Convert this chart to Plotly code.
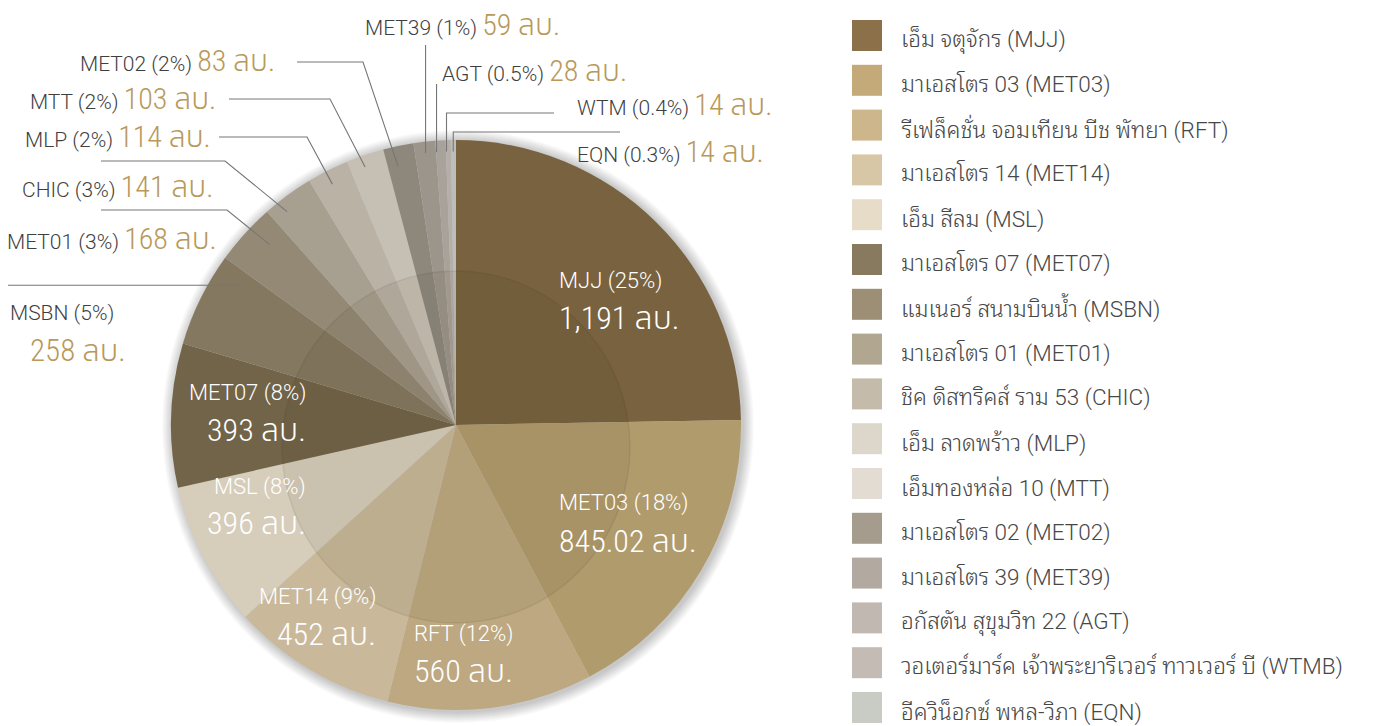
import math
import plotly.graph_objects as go

# -------------------------------------------------------------------------------------
# Dados
codigos = ['MJJ', 'MET03', 'RFT', 'MET14', 'MSL', 'MET07', 'MSBN', 'MET01',
           'CHIC', 'MLP', 'MTT', 'MET02', 'MET39', 'AGT', 'WTM', 'EQN']
valores = [1191, 845.02, 560, 452, 396, 393, 258, 168,
           141, 114, 103, 83, 59, 28, 14, 14]
percentuais = ['25%', '18%', '12%', '9%', '8%', '8%', '5%', '3%',
               '3%', '2%', '2%', '2%', '1%', '0.5%', '0.4%', '0.3%']
nomes_legenda = [
    'เอ็ม จตุจักร (MJJ)',
    'มาเอสโตร 03 (MET03)',
    'รีเฟล็คชั่น จอมเทียน บีช พัทยา (RFT)',
    'มาเอสโตร 14 (MET14)',
    'เอ็ม สีลม (MSL)',
    'มาเอสโตร 07 (MET07)',
    'แมเนอร์ สนามบินน้ำ (MSBN)',
    'มาเอสโตร 01 (MET01)',
    'ชิค ดิสทริคส์ ราม 53 (CHIC)',
    'เอ็ม ลาดพร้าว (MLP)',
    'เอ็มทองหล่อ 10 (MTT)',
    'มาเอสโตร 02 (MET02)',
    'มาเอสโตร 39 (MET39)',
    'อกัสตัน สุขุมวิท 22 (AGT)',
    'วอเตอร์มาร์ค เจ้าพระยาริเวอร์ ทาวเวอร์ บี (WTMB)',
    'อีควิน็อกซ์ พหล-วิภา (EQN)',
]
unidade = 'ลบ.'

cores_pizza = ['#78623F', '#B09B6C', '#BDA881', '#C9B99A', '#D6CDBB', '#716448',
               '#847860', '#938975', '#A79F8F', '#B9B2A5', '#C6C0B4', '#8D877C',
               '#9C958B', '#A9A29A', '#B4AFA8', '#BBBEB9']
cores_legenda = ['#8B704A', '#C4AA78', '#CDB68C', '#D8C7A6', '#E6DCC8', '#877A5E',
                 '#9C8F75', '#B1A690', '#C5BBAA', '#DDD6CB', '#E2DCD2', '#A69C8D',
                 '#B2AAA0', '#C0B8B1', '#C4BCB4', '#C9CCC5']

# -------------------------------------------------------------------------------------
# Geometria (pixels da tela; a página tem margem de 8px)
OFF = 8
W, H = 1388 - OFF, 726 - OFF
CX, CY, R = 456, 425, 285

FONTE = 'Roboto, Noto Sans Thai Looped, Loma, sans-serif'
FONTE_NUM = 'Roboto Condensed, Noto Sans Thai, sans-serif'
ESTILO_NUM = f'font-family:{FONTE_NUM};font-weight:300;font-stretch:62.5%'
DOURADO = '#B8995A'
CINZA = '#3F3F3F'
LINHA = '#767676'


def px(x):
    return (x - OFF) / W


def py(y):
    return 1 - (y - OFF) / H


def fmt(v):
    return f'{v:,.0f}' if float(v).is_integer() else f'{v:,.2f}'


total = sum(valores)
inicio = []
acum = 0
for v in valores:
    inicio.append(acum / total)
    acum += v


def ponto(i, t, rf):
    # ponto dentro da fatia i (t = fração angular, rf = fração do raio)
    ang = (inicio[i] + t * valores[i] / total) * 2 * math.pi
    return CX + rf * R * math.sin(ang), CY - rf * R * math.cos(ang)


# -------------------------------------------------------------------------------------
# Gráfico de pizza
fig = go.Figure(go.Pie(
    labels=codigos,
    values=valores,
    sort=False,
    direction='clockwise',
    rotation=0,
    marker=dict(colors=cores_pizza, line=dict(width=0)),
    textinfo='none',
    hoverinfo='label+value',
    showlegend=False,
    domain=dict(x=[px(CX - R), px(CX + R)], y=[py(CY + R), py(CY - R)]),
))

shapes = []
annotations = []

# sombra
for k in range(1, 12):
    shapes.append(dict(type='circle', xref='paper', yref='paper', layer='below',
                       x0=px(CX - R - k + 2), x1=px(CX + R + k + 2),
                       y0=py(CY + R + k + 2), y1=py(CY - R - k + 1),
                       fillcolor='rgba(0,0,0,0.02)', line=dict(width=0)))

# círculo interno (efeito de sombreamento)
shapes.append(dict(type='circle', xref='paper', yref='paper', layer='above',
                   x0=px(CX - 174), x1=px(CX + 174), y0=py(CY + 22 + 176), y1=py(CY + 22 - 176),
                   fillcolor='rgba(60,45,20,0.07)', line=dict(color='rgba(60,45,20,0.09)', width=1.5)))

# -------------------------------------------------------------------------------------
# Rótulos internos
internos = {
    'MJJ': (557, 'left', 281, 318),
    'MET03': (557, 'left', 503, 541),
    'RFT': (412, 'left', 634, 671),
    'MET14': (378, 'right', 597, 634),
    'MSL': (308, 'right', 487, 523),
    'MET07': (308, 'right', 393, 430),
}
for cod, (x, anc, y1, y2) in internos.items():
    i = codigos.index(cod)
    annotations.append(dict(x=px(x), y=py(y1), xref='paper', yref='paper', xanchor=anc,
                            yanchor='middle', showarrow=False,
                            text=f'{cod} ({percentuais[i]})',
                            font=dict(family=FONTE, size=22, weight=300, color='white')))
    annotations.append(dict(x=px(x), y=py(y2), xref='paper', yref='paper', xanchor=anc,
                            yanchor='middle', showarrow=False,
                            text=f'<span style="{ESTILO_NUM}">{fmt(valores[i])} {unidade}</span>',
                            font=dict(family=FONTE_NUM, size=32, color='white')))

# -------------------------------------------------------------------------------------
# Rótulos externos com linhas de chamada
externos = {
    # cod: (x, ancora, y, pontos da linha, t, rf)
    'MET39': (363, 'left', 25, [('v', 45)], 0.5, 0.96),
    'AGT': (440, 'left', 70, [('v', 84)], 0.05, 0.96),
    'WTM': (575, 'left', 105, [(554, 113), ('v', 113)], 0.1, 0.96),
    'EQN': (575, 'left', 152, [(620, 132), ('v', 132)], 0.45, 0.96),
    'MET02': (277, 'right', 60, [(297, 62), (363, 62)], 0.35, 0.93),
    'MTT': (218, 'right', 98, [(229, 99), (330, 99)], 0.4, 0.96),
    'MLP': (213, 'right', 137, [(219, 137), (307, 137)], 0.45, 0.95),
    'CHIC': (215, 'right', 186, [(101, 161), (225, 161)], 0.3, 0.955),
    'MET01': (219, 'right', 238, [(101, 210), (227, 210)], 0.65, 0.91),
}
for cod, (x, anc, y, linha, t, rf) in externos.items():
    i = codigos.index(cod)
    annotations.append(dict(
        x=px(x), y=py(y), xref='paper', yref='paper', xanchor=anc, yanchor='middle',
        showarrow=False,
        text=(f'{cod} ({percentuais[i]}) '
              f'<span style="{ESTILO_NUM};font-size:30px;color:{DOURADO}">'
              f'{fmt(valores[i])} {unidade}</span>'),
        font=dict(family=FONTE, size=21, weight=300, color=CINZA)))
    ex, ey = ponto(i, t, rf)
    pts = []
    for p in linha:
        if p[0] == 'v':
            pts.append((ex, p[1]))
        else:
            pts.append(p)
    pts.append((ex, ey))
    caminho = 'M ' + ' L '.join(f'{px(a):.5f},{py(b):.5f}' for a, b in pts)
    shapes.append(dict(type='path', xref='paper', yref='paper', path=caminho, layer='above',
                       line=dict(color=LINHA, width=1.1)))

# MSBN (rótulo em duas linhas)
i = codigos.index('MSBN')
annotations.append(dict(x=px(8), y=py(313), xref='paper', yref='paper', xanchor='left',
                        yanchor='middle', showarrow=False,
                        text=f'MSBN ({percentuais[i]})',
                        font=dict(family=FONTE, size=21, weight=300, color=CINZA)))
annotations.append(dict(x=px(128), y=py(350), xref='paper', yref='paper', xanchor='right',
                        yanchor='middle', showarrow=False,
                        text=f'<span style="{ESTILO_NUM}">{fmt(valores[i])} {unidade}</span>',
                        font=dict(family=FONTE_NUM, size=31, color=DOURADO)))
ex, ey = ponto(i, 0.85, 0.9)
shapes.append(dict(type='line', xref='paper', yref='paper', layer='above',
                   x0=px(8), y0=py(ey), x1=px(ex), y1=py(ey),
                   line=dict(color=LINHA, width=1.1)))

# -------------------------------------------------------------------------------------
# Legenda manual (quadrados grandes)
for k, (nome, cor) in enumerate(zip(nomes_legenda, cores_legenda)):
    yq = 35.5 + k * 44.8
    shapes.append(dict(type='rect', xref='paper', yref='paper',
                       x0=px(852), x1=px(882), y0=py(yq + 15.5), y1=py(yq - 15.5),
                       fillcolor=cor, line=dict(width=0)))
    annotations.append(dict(x=px(899), y=py(yq + 4), xref='paper', yref='paper',
                            xanchor='left', yanchor='middle', showarrow=False,
                            text=nome, font=dict(family=FONTE, size=22.5, weight=300,
                                                 color='#474747')))

fig.update_layout(
    width=W, height=H,
    margin=dict(l=0, r=0, t=0, b=0),
    paper_bgcolor='white',
    plot_bgcolor='white',
    shapes=shapes,
    annotations=annotations,
)

fig.write_html('out.html')
